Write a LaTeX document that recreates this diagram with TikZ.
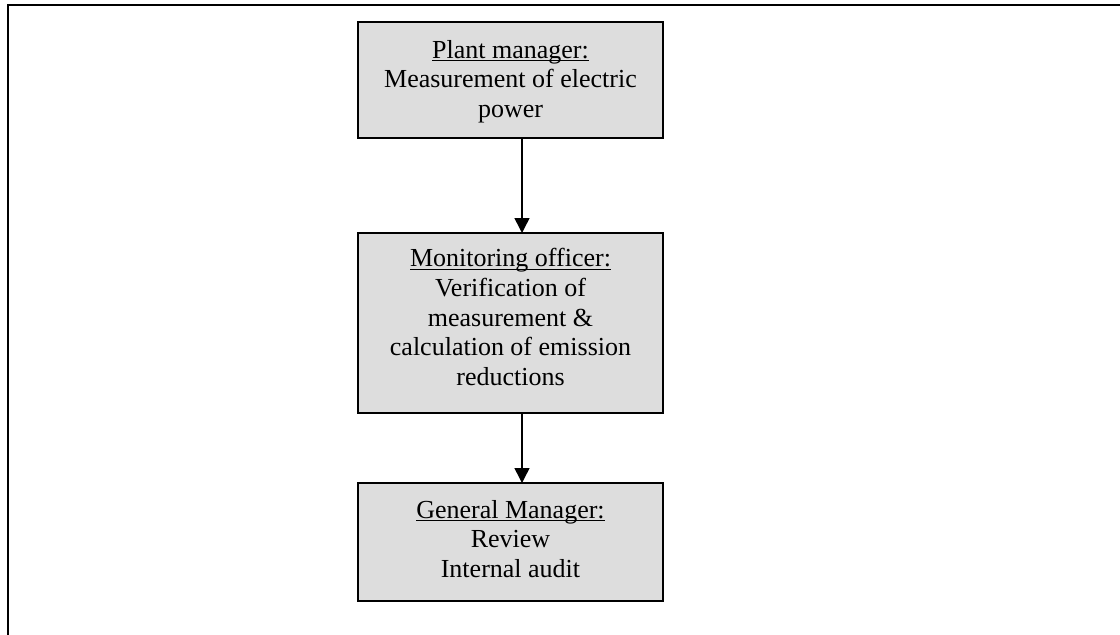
\documentclass[tikz,border=0pt]{standalone}
\usepackage{fontspec}
\setmainfont{Liberation Serif}
\usetikzlibrary{arrows.meta}
\definecolor{boxgray}{RGB}{221,221,221}
\newcommand\myul[1]{\setbox0\hbox{#1}\rlap{\rule[-3.3pt]{\wd0}{1.4pt}}\box0}
\newcommand\boxtext[3]{\parbox[c][#1][t]{305pt}{\centering\fontsize{26pt}{29.7pt}\selectfont\rule{0pt}{#2}#3}}
\tikzset{
  flowbox/.style={draw=black, line width=1.5pt, fill=boxgray, inner sep=0pt, outer sep=0pt},
  flowarr/.style={draw=black, line width=1.5pt, -{Triangle[width=15pt,length=15pt]}},
  framebar/.style={draw=black, line width=2pt}
}
\begin{document}
\begin{tikzpicture}[x=1pt,y=-1pt]
\useasboundingbox (0,0) rectangle (1120,635);
\draw[framebar] (7.5,636) -- (7.5,5) -- (1121,5);
\node[flowbox] (pm) at (510.5,80) {\boxtext{116pt}{36pt}{\myul{Plant manager:}\\Measurement of electric\\power}};
\node[flowbox] (mo) at (510.5,323) {\boxtext{180pt}{33.8pt}{\myul{Monitoring officer:}\\Verification of\\measurement \&\\calculation of emission\\reductions}};
\node[flowbox] (gm) at (510.5,542) {\boxtext{118pt}{35pt}{\myul{General Manager:}\\Review\\Internal audit}};
\draw[flowarr] ([xshift=11.5pt]pm.south) -- ([xshift=11.5pt]mo.north);
\draw[flowarr] ([xshift=11.5pt]mo.south) -- ([xshift=11.5pt]gm.north);
\end{tikzpicture}
\end{document}
